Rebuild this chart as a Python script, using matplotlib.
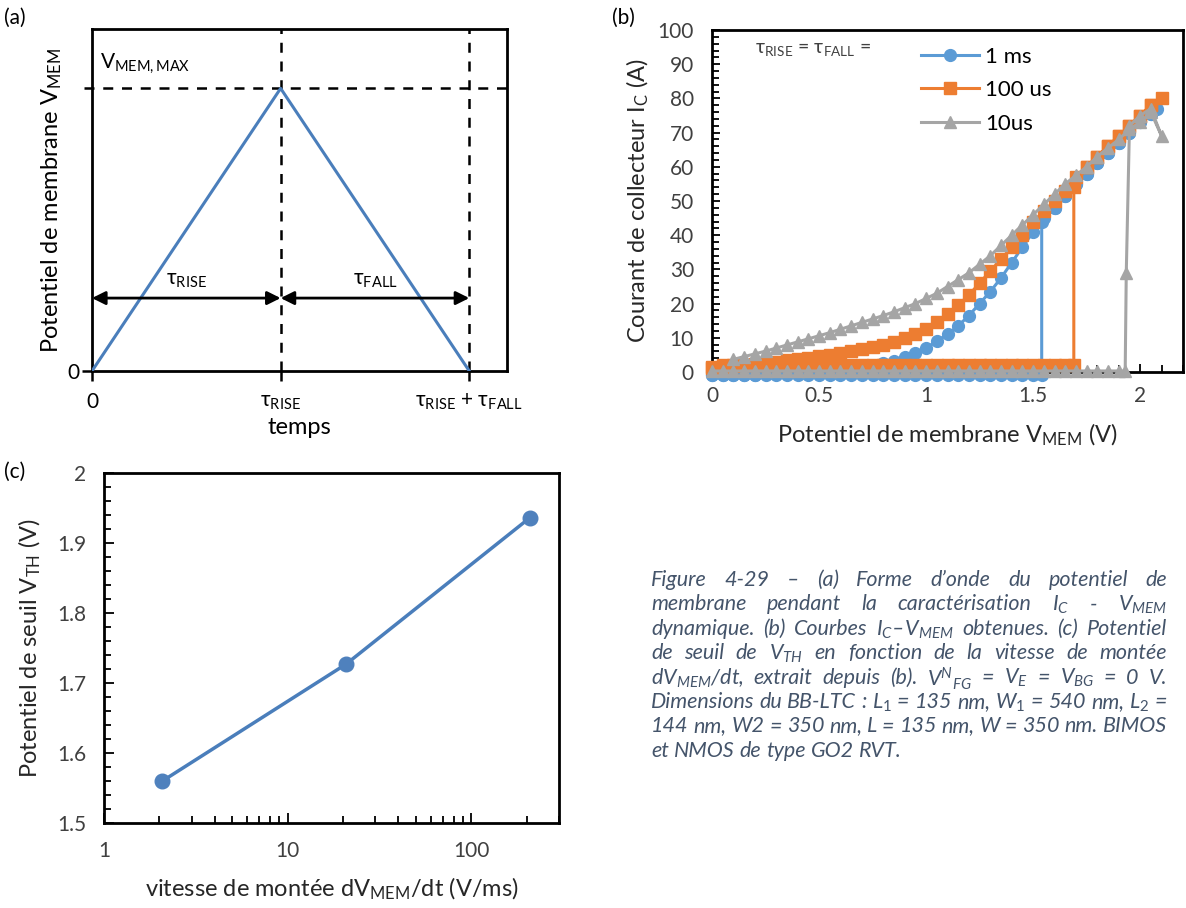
import matplotlib
matplotlib.use('Agg')
import matplotlib.pyplot as plt
from matplotlib.ticker import MultipleLocator, LogLocator, NullFormatter

plt.rcParams['font.family'] = ['Lato', 'DejaVu Sans']
plt.rcParams['mathtext.fontset'] = 'custom'
plt.rcParams['mathtext.rm'] = 'Lato'
plt.rcParams['mathtext.it'] = 'Lato:italic'
plt.rcParams['mathtext.bf'] = 'Lato:bold'

# ---- (a) forme d'onde
t_pts = [0, 1, 2]          # 0, tau_rise, tau_rise + tau_fall
v_pts = [0, 1, 0]          # V_MEM normalise
t_labels = ['0', 'τ$_{\\mathrm{RISE}}$', 'τ$_{\\mathrm{RISE}}$ + τ$_{\\mathrm{FALL}}$']

# ---- (b) courbes Ic - Vmem
vm_up_1ms = [0.00, 0.05, 0.10, 0.15, 0.20, 0.25, 0.30, 0.35, 0.40, 0.45,
             0.50, 0.55, 0.60, 0.65, 0.70, 0.75, 0.80, 0.85, 0.90, 0.95,
             1.00, 1.05, 1.10, 1.15, 1.20, 1.25, 1.30, 1.35, 1.40, 1.45,
             1.50, 1.54, 1.54, 1.60, 1.65, 1.70, 1.75, 1.80, 1.85, 1.90,
             1.95, 2.00, 2.05, 2.08]
ic_up_1ms = [-0.8] * 32 + [44, 48, 51.5, 55, 58, 61, 64, 67, 70, 73, 75.5, 77]
vm_dn_1ms = [2.05, 2.00, 1.95, 1.90, 1.85, 1.80, 1.75, 1.70, 1.65, 1.60,
             1.55, 1.50, 1.45, 1.40, 1.35, 1.30, 1.25, 1.20, 1.15, 1.10,
             1.05, 1.00, 0.95, 0.90, 0.85, 0.80, 0.75, 0.70, 0.65, 0.60,
             0.55, 0.50, 0.45, 0.40, 0.35, 0.30, 0.25, 0.20, 0.15, 0.10,
             0.05, 0.00]
ic_dn_1ms = [75.5, 73, 70, 67, 64, 61, 58, 55, 51.5, 48,
             45, 41, 36.5, 32, 27.5, 23.5, 20, 16.5, 13.5, 11,
             9, 7, 5.5, 4.3, 3.3, 2.5, 1.8, 1.3, 0.9, 0.5,
             0.2, 0.0, -0.2, -0.4, -0.5, -0.6, -0.7, -0.8, -0.8, -0.8,
             -0.8, -0.8]

vm_up_100us = [0.00, 0.05, 0.10, 0.15, 0.20, 0.25, 0.30, 0.35, 0.40, 0.45,
               0.50, 0.55, 0.60, 0.65, 0.70, 0.75, 0.80, 0.85, 0.90, 0.95,
               1.00, 1.05, 1.10, 1.15, 1.20, 1.25, 1.30, 1.35, 1.40, 1.45,
               1.50, 1.55, 1.60, 1.65, 1.69, 1.69, 1.75, 1.80, 1.85, 1.90,
               1.95, 2.00, 2.05, 2.10]
ic_up_100us = [1.5] + [2.0] * 34 + [54, 60, 63, 66, 69, 72, 75, 78, 80]
vm_dn_100us = vm_dn_1ms
ic_dn_100us = [78, 75, 72, 69, 66, 63, 60, 57, 53, 50,
               47, 44, 40, 36.5, 33, 29.5, 26, 22.5, 19.5, 17,
               14.5, 12.5, 11, 9.8, 8.8, 8.0, 7.3, 6.7, 6.1, 5.6,
               5.1, 4.6, 4.2, 3.8, 3.4, 3.0, 2.7, 2.4, 2.1, 1.8,
               1.5, 1.3]

vm_up_10us = [0.00, 0.05, 0.10, 0.15, 0.20, 0.25, 0.30, 0.35, 0.40, 0.45,
              0.50, 0.55, 0.60, 0.65, 0.70, 0.75, 0.80, 0.85, 0.90, 0.95,
              1.00, 1.05, 1.10, 1.15, 1.20, 1.25, 1.30, 1.35, 1.40, 1.45,
              1.50, 1.55, 1.60, 1.65, 1.70, 1.75, 1.80, 1.85, 1.90, 1.93,
              1.935, 1.95, 2.00, 2.05, 2.10]
ic_up_10us = [0.3] * 40 + [29, 72, 75, 77, 69]
vm_dn_10us = vm_dn_1ms[:40]
ic_dn_10us = [76, 73, 71, 68, 65.5, 63, 60, 57.5, 55, 52,
              49, 46, 43, 40, 37, 34, 31.5, 29, 27, 25,
              23, 21.5, 20, 18.8, 17.6, 16.5, 15.5, 14.5, 13.5, 12.5,
              11.5, 10.6, 9.7, 8.8, 7.9, 7.0, 6.1, 5.3, 4.5, 3.7]

series_b = [
    ('1 ms', vm_up_1ms + vm_dn_1ms, ic_up_1ms + ic_dn_1ms, '#5B9BD5', 'o', 8.5),
    ('100 us', vm_up_100us + vm_dn_100us, ic_up_100us + ic_dn_100us, '#ED7D31', 's', 8.5),
    ('10us', vm_up_10us + vm_dn_10us, ic_up_10us + ic_dn_10us, '#A5A5A5', '^', 9),
]

# ---- (c) seuil vs vitesse de montee
slope = [2.08, 20.8, 208]      # V/ms
vth = [1.56, 1.727, 1.936]     # V
c_yticks = [1.5, 1.6, 1.7, 1.8, 1.9, 2.0]
c_ylabels = ['1.5', '1.6', '1.7', '1.8', '1.9', '2']

caption_lines = [
    ['Figure', '4-29', '–', '(a)', 'Forme', 'd’onde', 'du', 'potentiel', 'de'],
    ['membrane', 'pendant', 'la', 'caractérisation', 'I$_{\\mathit{C}}$', '-', 'V$_{\\mathit{MEM}}$'],
    ['dynamique.', '(b)', 'Courbes', 'I$_{\\mathit{C}}$–V$_{\\mathit{MEM}}$', 'obtenues.', '(c)', 'Potentiel'],
    ['de', 'seuil', 'de', 'V$_{\\mathit{TH}}$', 'en', 'fonction', 'de', 'la', 'vitesse', 'de', 'montée'],
    ['dV$_{\\mathit{MEM}}$/dt,', 'extrait', 'depuis', '(b).', 'V$^{\\mathit{N}}{}_{\\mathit{FG}}$', '=',
     'V$_{\\mathit{E}}$', '=', 'V$_{\\mathit{BG}}$', '=', '0', 'V.'],
    ['Dimensions', 'du', 'BB-LTC', ':', 'L$_{\\mathit{1}}$', '=', '135', 'nm,', 'W$_{\\mathit{1}}$', '=', '540',
     'nm,', 'L$_{\\mathit{2}}$', '='],
    ['144', 'nm,', 'W2', '=', '350', 'nm,', 'L', '=', '135', 'nm,', 'W', '=', '350', 'nm.', 'BIMOS'],
    ['et', 'NMOS', 'de', 'type', 'GO2', 'RVT.'],
]

W, H = 1186, 908
fig = plt.figure(figsize=(W / 100, H / 100), dpi=100)


def box(l, t, r, b):
    return [l / W, 1 - b / H, (r - l) / W, (b - t) / H]


ax_a = fig.add_axes(box(92, 29, 507, 371))
ax_b = fig.add_axes(box(712, 30, 1183, 372))
ax_c = fig.add_axes(box(104, 473, 559, 823))

tick_grey = '#404040'

# (a)
ax_a.plot(t_pts, v_pts, color='#4A7EBB', lw=2.2, zorder=3)
ax_a.set_xlim(0, 2.2)
ax_a.set_ylim(0, 1.21)
for t in t_pts[1:]:
    ax_a.plot([t, t], [0, 1.21], color='k', ls=(0, (4, 3.5)), lw=1.8, zorder=2)
ax_a.plot([-0.04, 2.2], [max(v_pts)] * 2, color='k', ls=(0, (4, 3.5)), lw=1.8,
          clip_on=False, zorder=2)
y_arrow = 0.258
for t0, t1, lab in [(t_pts[0], t_pts[1], 'τ$_{\\mathrm{RISE}}$'),
                    (t_pts[1], t_pts[2], 'τ$_{\\mathrm{FALL}}$')]:
    ax_a.annotate('', xy=(t0, y_arrow), xytext=(t1, y_arrow),
                  arrowprops=dict(arrowstyle='<|-|>', color='k', lw=2,
                                  mutation_scale=20, shrinkA=0, shrinkB=0))
    ax_a.text((t0 + t1) / 2, y_arrow + 0.03, lab, ha='center', va='bottom', fontsize=15)
ax_a.text(0.04, 1.045, 'V$_{\\mathrm{MEM,MAX}}$', fontsize=15, va='bottom')
ax_a.set_xticks(t_pts)
ax_a.set_xticklabels(t_labels)
ax_a.set_yticks([0])
ax_a.set_yticklabels(['0'])
ax_a.tick_params(direction='out', length=7, width=1.8, labelsize=15, colors='k')
ax_a.tick_params(axis='x', pad=8)
ax_a.tick_params(axis='y', pad=2)
ax_a.set_xlabel('temps', fontsize=17)
ax_a.xaxis.label.set_va('center')
ax_a.xaxis.set_label_coords(0.5, (371 - 427) / 342)
ax_a.set_ylabel('Potentiel de membrane V$_{\\mathrm{MEM}}$', fontsize=17)
ax_a.yaxis.label.set_va('center')
ax_a.yaxis.set_label_coords((52 - 92) / 415, 0.5)
for s in ax_a.spines.values():
    s.set_linewidth(2)

# (b)
for i, (lab, vm, ic, col, mk, ms) in enumerate(series_b):
    ax_b.plot(vm, ic, color=col, marker=mk, ms=ms, mec=col, lw=2.2, label=lab,
              clip_on=False, zorder=3 + i)
ax_b.set_xlim(0, 2.2)
ax_b.set_ylim(0, 100)
ax_b.xaxis.set_minor_locator(MultipleLocator(0.1))
ax_b.yaxis.set_major_locator(MultipleLocator(10))
ax_b.yaxis.set_minor_locator(MultipleLocator(2))
ax_b.set_xticks([0, 0.5, 1, 1.5, 2])
ax_b.set_xticklabels(['0', '0.5', '1', '1.5', '2'])
ax_b.tick_params(which='both', direction='in', colors='k', labelcolor=tick_grey,
                 labelsize=15, width=1.3)
ax_b.tick_params(which='major', length=6)
ax_b.tick_params(which='minor', length=5)
ax_b.tick_params(axis='y', pad=13)
ax_b.tick_params(axis='x', pad=10)
ax_b.set_xlabel('Potentiel de membrane V$_{\\mathrm{MEM}}$ (V)', fontsize=17, color='#262626')
ax_b.xaxis.label.set_va('center')
ax_b.xaxis.set_label_coords(0.5, (372 - 435) / 342)
ax_b.set_ylabel('Courant de collecteur I$_{\\mathrm{C}}$ (A)', fontsize=17, color='#262626')
ax_b.yaxis.label.set_va('center')
ax_b.yaxis.set_label_coords((638 - 712) / 471, 0.5)
for s in ax_b.spines.values():
    s.set_linewidth(2)
leg = ax_b.legend(loc='upper left', bbox_to_anchor=(912 / W, 1 - 38 / H),
                  bbox_transform=fig.transFigure, frameon=False, fontsize=16,
                  handlelength=2.6, handletextpad=0.3, labelspacing=0.6,
                  borderaxespad=0)
fig.text(755 / W, 1 - 50 / H, 'τ$_{\\mathrm{RISE}}$ = τ$_{\\mathrm{FALL}}$ =', fontsize=14,
         va='center', color=tick_grey)

# (c)
ax_c.plot(slope, vth, color='#4A7EBB', lw=2.5, marker='o', ms=10.5,
          mfc='#4F81BD', mec='#4F81BD', clip_on=False, zorder=3)
ax_c.set_xscale('log')
ax_c.set_xlim(1, 300)
ax_c.set_ylim(1.5, 2.0)
ax_c.set_xticks([1, 10, 100])
ax_c.set_xticklabels(['1', '10', '100'])
ax_c.xaxis.set_minor_locator(LogLocator(base=10, subs=[2, 3, 4, 5, 6, 7, 8, 9]))
ax_c.xaxis.set_minor_formatter(NullFormatter())
ax_c.set_yticks(c_yticks)
ax_c.set_yticklabels(c_ylabels)
ax_c.yaxis.set_minor_locator(MultipleLocator(0.02))
ax_c.tick_params(which='both', direction='in', colors='k', labelcolor=tick_grey,
                 labelsize=15, width=1.3)
ax_c.tick_params(which='major', length=7)
ax_c.tick_params(which='minor', length=5)
ax_c.tick_params(axis='y', pad=13)
ax_c.tick_params(axis='x', pad=13)
ax_c.set_xlabel('vitesse de montée dV$_{\\mathrm{MEM}}$/dt (V/ms)', fontsize=17, color='#262626')
ax_c.xaxis.label.set_va('center')
ax_c.xaxis.set_label_coords(0.5, (823 - 889) / 350)
ax_c.set_ylabel('Potentiel de seuil V$_{\\mathrm{TH}}$ (V)', fontsize=17, color='#262626')
ax_c.yaxis.label.set_va('center')
ax_c.yaxis.set_label_coords((30 - 104) / 455, 0.5)
for s in ax_c.spines.values():
    s.set_linewidth(2)

# panel letters
for lab, px, py in [('(a)', 4, 18), ('(b)', 612, 18), ('(c)', 4, 472)]:
    fig.text(px / W, 1 - py / H, lab, fontsize=15, va='center')

# caption, justifie
cap_left, cap_right = 651, 1167
cap_y0, cap_dy = 578, 24.4
fig.canvas.draw()
renderer = fig.canvas.get_renderer()
for k, words in enumerate(caption_lines):
    y = 1 - (cap_y0 + k * cap_dy) / H
    texts = [fig.text(0, y, w, fontsize=15.5, style='italic', color='#44546A',
                      va='center_baseline') for w in words]
    widths = [t.get_window_extent(renderer).width for t in texts]
    if k < len(caption_lines) - 1:
        gap = (cap_right - cap_left - sum(widths)) / (len(words) - 1)
    else:
        gap = 5
    x = cap_left
    for t, w in zip(texts, widths):
        t.set_x(x / W)
        x += w + gap

fig.savefig('out.png', dpi=100)
